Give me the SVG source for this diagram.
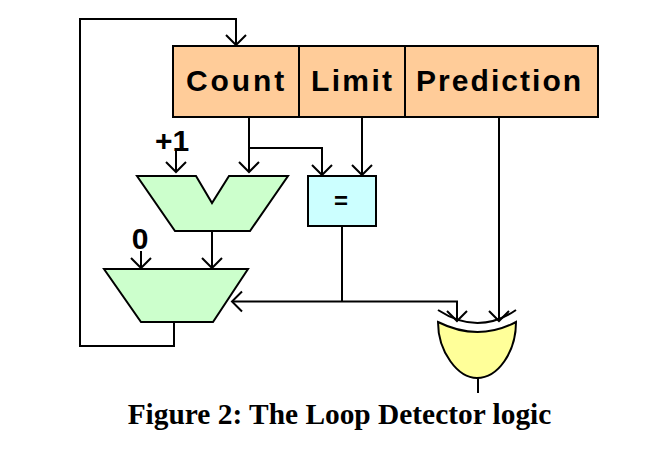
<svg xmlns="http://www.w3.org/2000/svg" width="652" height="459" viewBox="0 0 652 459">
<style>
.b{stroke:#000;stroke-width:2}
.c{fill:none;stroke:#000;stroke-width:2}
.l{font-family:"Liberation Sans",Arial,sans-serif;font-weight:bold;fill:#000;font-size:30px}
</style>
<defs>
<marker id="a" markerUnits="userSpaceOnUse" markerWidth="24" markerHeight="14" refX="20" refY="7" orient="auto" overflow="visible">
<path d="M10 -3L20 7L10 17" fill="none" stroke="#000" stroke-width="2"/>
</marker>
</defs>
<rect width="652" height="459" fill="#fff"/>
<g id="connectors" class="c">
<path d="M174 323V346H80V19H236V45" marker-end="url(#a)"/>
<path d="M249 117V172" marker-end="url(#a)"/>
<path d="M249 148H322V175" marker-end="url(#a)"/>
<path d="M362 117V175" marker-end="url(#a)"/>
<path d="M176 148V172" marker-end="url(#a)"/>
<path d="M212 231V268" marker-end="url(#a)"/>
<path d="M141 251V268" marker-end="url(#a)"/>
<path d="M342 226V301.500"/>
<path d="M342 301.500H232" marker-end="url(#a)"/>
<path d="M342 301.500H457V321" marker-end="url(#a)"/>
<path d="M499 117V321" marker-end="url(#a)"/>
<path d="M478 378V393"/>
</g>
<g id="count"><rect x="173" y="46" width="126" height="71" fill="#ffcc99" class="b"/><text x="186" y="90.500" class="l" letter-spacing="2.900">Count</text></g>
<g id="limit"><rect x="299" y="46" width="106" height="71" fill="#ffcc99" class="b"/><text x="311" y="90.500" class="l" letter-spacing="2.350">Limit</text></g>
<g id="prediction"><rect x="405" y="46" width="193" height="71" fill="#ffcc99" class="b"/><text x="416" y="90.500" class="l" letter-spacing="2.050">Prediction</text></g>
<g id="adder"><path d="M137 176H196L212 203L229 176H288L250 231H175Z" fill="#ccffcc" class="b"/></g>
<g id="plus1"><text x="172" y="151" text-anchor="middle" class="l">+1</text></g>
<g id="mux"><path d="M104 269H248L213 322H141Z" fill="#ccffcc" class="b"/></g>
<g id="zero"><text x="140" y="249" text-anchor="middle" class="l">0</text></g>
<g id="equal"><rect x="308" y="176" width="68" height="50" fill="#ccffff" class="b"/><text x="341" y="209" text-anchor="middle" class="l" style="font-size:24px">=</text></g>
<g id="xor">
<path d="M438 322Q478 342 516 322C516 352 498 378 477 378C458 378 438 352 438 322Z" fill="#ffff99" class="b"/>
<path d="M438 310Q478 336 516 310" class="c"/>
</g>
<text x="339.500" y="424" text-anchor="middle" font-family="'Liberation Serif','Times New Roman',serif" font-weight="bold" font-size="29.400">Figure 2: The Loop Detector logic</text>
</svg>
